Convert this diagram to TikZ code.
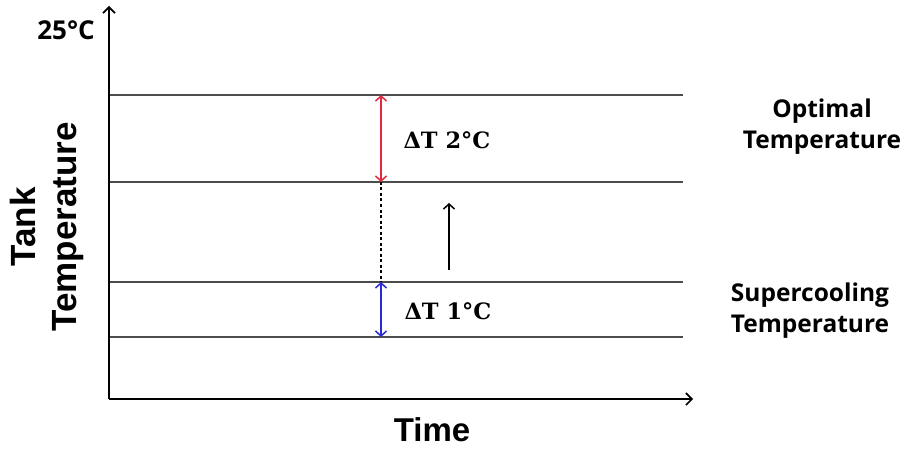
\documentclass[tikz,border=0pt]{standalone}
\usepackage{fontspec}
\setmainfont{Liberation Sans}
\newfontfamily\lblfont{Open Sans}
\newfontfamily\dtfont{DejaVu Serif}
\usetikzlibrary{arrows.meta}
\begin{document}
\begin{tikzpicture}[x=1pt,y=-1pt,
  axis/.style={line width=1.8pt,-{Straight Barb[length=6pt,width=12pt,line width=1.6pt]}},
  level/.style={draw=black!70,line width=1.4pt},
  dtarrow/.style={line width=1.6pt,{Straight Barb[length=5pt,width=11pt,line width=1.5pt]}-{Straight Barb[length=5pt,width=11pt,line width=1.5pt]}},
  rise/.style={line width=1.6pt,-{Straight Barb[length=5pt,width=11pt,line width=1.5pt]}},
  dtlabel/.style={font=\dtfont\bfseries\fontsize{22.5}{26}\selectfont,anchor=west},
  sidelabel/.style={font=\lblfont\bfseries\fontsize{24.5}{31}\selectfont,align=center},
  axlabel/.style={font=\bfseries\fontsize{35}{41}\selectfont}]
\definecolor{dtred}{RGB}{225,40,60}
\definecolor{dtblue}{RGB}{40,40,215}
\useasboundingbox (0,0) rectangle (907,449);

% axes
\coordinate (o) at (109,399);
\coordinate (ytop) at (109,6);
\coordinate (xend) at (693,399);
\draw[axis] (o) -- (ytop);
\draw[axis] (o) -- (xend);

% temperature levels
\coordinate (a1) at (110,95);  \coordinate (a2) at (683,95);
\coordinate (b1) at (110,182); \coordinate (b2) at (683,182);
\coordinate (c1) at (110,282); \coordinate (c2) at (683,282);
\coordinate (d1) at (110,337); \coordinate (d2) at (683,337);
\draw[level] (a1) -- (a2);
\draw[level] (b1) -- (b2);
\draw[level] (c1) -- (c2);
\draw[level] (d1) -- (d2);

% temperature differences
\coordinate (pa) at (381,95);
\coordinate (pb) at (381,182);
\coordinate (pc) at (381,282);
\coordinate (pd) at (381,337);
\draw[dtarrow,dtred] (pa) -- (pb);
\draw[line width=1.6pt,dash pattern=on 3pt off 2.5pt] (pb) -- (pc);
\draw[dtarrow,dtblue] (pc) -- (pd);

\coordinate (r1) at (449,270);
\coordinate (r2) at (449,203);
\draw[rise] (r1) -- (r2);

% labels
\node[dtlabel] (dt2) at (400,140) {ΔT 2°C};
\node[dtlabel] (dt1) at (401,311) {ΔT 1°C};
\node[sidelabel] (opt) at (822,127) {Optimal\\Temperature};
\node[sidelabel] (sup) at (810,311) {Supercooling\\Temperature};
\node[font=\lblfont\bfseries\fontsize{26}{30}\selectfont] (t25) at (66,30) {25°C};
\node[axlabel,align=center,rotate=90] (ylab) at (47,227) {Tank\\Temperature};
\node[axlabel,font=\bfseries\fontsize{33}{38}\selectfont,inner sep=0pt,anchor=base] (xlab) at (432,441) {Time};
\end{tikzpicture}
\end{document}
